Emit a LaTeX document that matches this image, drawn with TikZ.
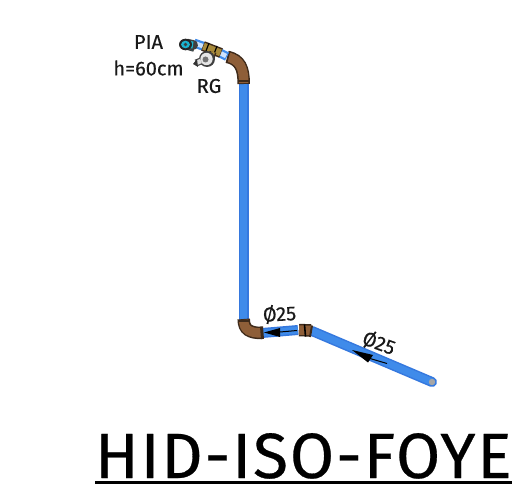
\documentclass[tikz,border=0pt]{standalone}
\usepackage{fontspec}
\setmainfont{Fira Sans}[FakeBold=0.35]
\newfontfamily\titlefont{Fira Sans}[FakeBold=0.45,LetterSpace=3]
\definecolor{pipeblue}{HTML}{3F8BEA}
\definecolor{pipeedge}{HTML}{3578DE}
\definecolor{lightblue}{HTML}{CFE3FB}
\definecolor{copper}{HTML}{8E5E38}
\definecolor{copperdk}{HTML}{3E2A1A}
\definecolor{brass}{HTML}{A88A3A}
\definecolor{teal}{HTML}{19B4CF}
\tikzset{
  x=1pt,y=-1pt,
  pipeo/.style={line width=10pt,draw=pipeedge},
  pipei/.style={line width=7pt,draw=pipeblue},
  coppero/.style={line width=12.5pt,draw=copperdk},
  copperi/.style={line width=9.5pt,draw=copper},
  lbl/.style={inner sep=0pt,font=\fontsize{20}{22}\selectfont,text=black!90},
  flow/.style={fill=black,draw=none},
}
\begin{document}
\begin{tikzpicture}
\useasboundingbox (0,0) rectangle (512,492);
\clip (0,0) rectangle (512,492);
% named points
\coordinate (top) at (243.7,84);
\coordinate (botv) at (243.7,320);
\coordinate (elbowend) at (262,333);
\coordinate (teeL) at (298,330);
\coordinate (teeR) at (312,331);
\coordinate (tip) at (432,382);
% main pipes
\draw[pipeo] (top) -- (botv);
\draw[pipei] (top) -- (botv);
\draw[pipeo] (elbowend) -- (teeL);
\draw[pipei] (elbowend) -- (teeL);
\draw[pipeo,line cap=round] (teeR) -- (tip);
\draw[pipei,line cap=round] (teeR) -- (tip);
\fill[black!35] (tip) circle (3.2);
% bottom elbow
\draw[coppero] (243.7,319) .. controls (243.7,330) and (250,333) .. (elbowend);
\draw[copperi] (243.7,320) .. controls (243.7,330) and (250,333) .. (elbowend);
\draw[copperdk,line width=2.6pt] (237.5,321) -- (250,321);
\draw[copperdk,line width=3pt] (261.5,326.5) -- (262.5,339);
% bottom tee coupling
\draw[coppero] (299,330) -- (311,330.5);
\draw[copperi] (299,330) -- (311,330.5);
\draw[black,line width=1.6pt] (304.5,324.5) -- (305.5,336.5);
\draw[copperdk,line width=2pt] (312,325.5) -- (310,337);
% top elbow
\draw[coppero] (228,57) .. controls (240,60) and (243.7,68) .. (243.7,84);
\draw[copperi] (228,57) .. controls (240,60) and (243.7,68) .. (243.7,83);
\draw[copperdk,line width=2.6pt] (237.5,81) -- (250,81);
\draw[copperdk,line width=1.8pt] (229.5,51) -- (226.5,63);
% short top pipe pieces
\draw[line width=9pt,draw=pipeblue] (219,52.5) -- (227,56.5);
\draw[line width=4.5pt,draw=lightblue] (219,52.5) -- (226,56);
\draw[line width=9pt,draw=pipeblue] (194,43) -- (204,46.5);
\draw[line width=4.5pt,draw=lightblue] (195,43.4) -- (203,46.2);
% brass valve
\draw[line width=10pt,draw=copperdk] (203,46) -- (221,53);
\draw[line width=7pt,draw=brass] (203.5,46.2) -- (220.5,52.8);
\draw[line width=1.2pt,draw=black] (209,43) -- (206,51);
\draw[line width=1.2pt,draw=black] (217,46) -- (214,54);
\draw[line width=7pt,draw=copperdk] (213,52) -- (211,58);
\draw[line width=4pt,draw=brass] (213,52) -- (211,58);
% grey regulator
\fill[black!75] (207,59) circle (8);
\fill[black!10] (206.5,59) circle (6.2);
\fill[black!55] (205.5,59.5) circle (3);
\draw[line width=7pt,draw=black!70] (201,61) -- (196,63);
\draw[line width=4.5pt,draw=black!12] (201,61) -- (196,63);
\fill[black!80] (197,59) -- (193,64) -- (198,67) -- cycle;
% teal PIA elbow
\draw[line width=9pt,draw=black!75] (192,40) -- (189,50.5);
\draw[line width=6pt,draw=teal] (192,41) -- (189.5,49.5);
\draw[line width=10pt,draw=black!75,line cap=round] (185,44) -- (193,45);
\draw[line width=7pt,draw=teal] (186,44) -- (193,45);
\fill[black!85] (185.5,44.5) ellipse (6.5 and 5.8);
\fill[teal] (185.5,44.5) ellipse (4.4 and 3.8);
\fill[black!75] (185.5,44.5) circle (1.8);
% flow arrows
\fill[flow] (264,332.5) -- (280,328) -- (280,337) -- cycle;
\draw[black,line width=1pt] (280,332) -- (297,330.5);
\fill[flow] (352,350) -- (373,355) -- (368,362.5) -- cycle;
\draw[black,line width=1pt] (370,358.5) -- (387,363.5);
% labels
\node[lbl,anchor=center] (pia) at (148.5,42) {PIA};
\node[lbl,anchor=center] (h) at (148.5,68) {h=60cm};
\node[lbl,anchor=center] (rg) at (209,86) {RG};
\node[lbl,anchor=center,rotate=3] (d1) at (279.5,314) {Ø25};
\node[lbl,anchor=center,rotate=-20] (d2) at (379,343) {Ø25};
% title
\node[anchor=base west,inner sep=0pt,font=\titlefont\fontsize{64}{70}\selectfont,text=black] (title) at (95,478) {HID-ISO-FOYER};
\fill[black] (95,481) rectangle (512,484.3);
\end{tikzpicture}
\end{document}
